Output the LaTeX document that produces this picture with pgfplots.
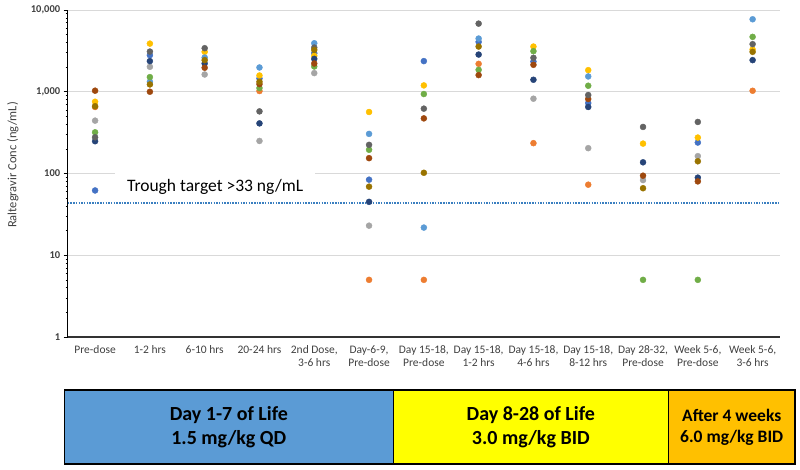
\documentclass[border=0pt]{standalone}
\usepackage{pgfplots}
\pgfplotsset{compat=1.18}
\usepackage{fontspec}
\setmainfont{Carlito}
\definecolor{xblue}{HTML}{4472C4}
\definecolor{xorange}{HTML}{ED7D31}
\definecolor{xgray}{HTML}{A5A5A5}
\definecolor{xgold}{HTML}{FFC000}
\definecolor{xlblue}{HTML}{5B9BD5}
\definecolor{xgreen}{HTML}{70AD47}
\definecolor{xdblue}{HTML}{264478}
\definecolor{xbrown}{HTML}{9E480E}
\definecolor{xdgray}{HTML}{636363}
\definecolor{xdgold}{HTML}{997300}
\definecolor{txt}{HTML}{404040}
\definecolor{troughblue}{HTML}{3A7FC0}
\definecolor{boxblue}{HTML}{5B9BD5}
\definecolor{boxyellow}{HTML}{FFFF00}
\definecolor{boxorange}{HTML}{FFC000}
\begin{document}
\begin{tikzpicture}[x=1bp,y=1bp]
\useasboundingbox (0,0) rectangle (800,470);
\begin{axis}[
  at={(67.7bp,133bp)}, anchor=south west,
  scale only axis, width=712.3bp, height=327bp,
  ymode=log, ymin=1, ymax=10000,
  xmin=-0.5, xmax=12.5,
  axis x line*=bottom, axis y line*=left,
  x axis line style={black!80, line width=1.2bp, -},
  y axis line style={black, line width=0.8bp, -},
  xtick={0,...,12},
  xticklabels={Pre-dose,1-2 hrs,6-10 hrs,20-24 hrs,{2nd Dose,\\3-6 hrs},{Day-6-9,\\Pre-dose},{Day 15-18,\\Pre-dose},{Day 15-18,\\1-2 hrs},{Day 15-18,\\4-6 hrs},{Day 15-18,\\8-12 hrs},{Day 28-32,\\Pre-dose},{Week 5-6,\\Pre-dose},{Week 5-6,\\3-6 hrs}},
  x tick label style={align=center, font=\fontsize{11.5bp}{13.5bp}\selectfont, text=txt, yshift=-1bp},
  major x tick style={draw=none},
  ytick={1,10,100,1000,10000},
  yticklabels={1,10,100,{1,000},{10,000}},
  y tick label style={font=\fontsize{10.5bp}{12bp}\selectfont\bfseries, text=txt},
  /pgf/number format/assume math mode=true,
  tick align=outside,
  major tick length=4bp, minor tick length=2bp,
  ytick pos=left,
  y tick style={black, line width=0.6bp},
  ymajorgrids, grid style={black!15, line width=0.9bp},
  ylabel={Raltegravir Conc (ng/mL)},
  ylabel style={at={(axis description cs:-0.0768,0.526)}, anchor=center, rotate=0, font=\fontsize{12.5bp}{14bp}\selectfont, text=txt},
  clip=false,
  every axis plot/.append style={only marks, mark=*, mark size=3bp},
]
\node[anchor=base, fill=white, inner xsep=12bp, inner ysep=0bp, text height=18bp, text depth=8bp, font=\fontsize{17.5bp}{20bp}\selectfont] at (axis cs:2.19,61) {Trough target >33 ng/mL};
\addplot[xblue, mark options={fill=xblue, draw=xblue}] coordinates {(0,62) (1,2800) (3,1453) (4,2960) (5,84) (6,2370) (7,4070) (8,2343) (9,728) (11,239)};
\addplot[xorange, mark options={fill=xorange, draw=xorange}] coordinates {(0,650) (3,1020) (5,5) (6,5) (7,2193) (8,235) (9,73) (12,1028)};
\addplot[xgray, mark options={fill=xgray, draw=xgray}] coordinates {(0,443) (1,2018) (2,1625) (3,250) (4,1690) (5,23) (8,822) (9,204) (10,83) (11,163)};
\addplot[xgold, mark options={fill=xgold, draw=xgold}] coordinates {(0,755) (1,3880) (2,3075) (3,1580) (4,2750) (5,565) (6,1195) (8,3570) (9,1837) (10,232) (11,275) (12,3280)};
\addplot[xlblue, mark options={fill=xlblue, draw=xlblue}] coordinates {(1,1324) (2,2620) (3,1980) (4,3920) (5,305) (6,21.8) (7,4470) (9,1538) (12,7700)};
\addplot[xgreen, mark options={fill=xgreen, draw=xgreen}] coordinates {(0,319) (1,1510) (3,1110) (4,2035) (5,195) (6,937) (7,1853) (8,3135) (9,1184) (10,5) (11,5) (12,4690)};
\addplot[xdblue, mark options={fill=xdblue, draw=xdblue}] coordinates {(0,248) (1,2370) (2,2215) (3,410) (4,2525) (5,45) (7,2850) (8,1401) (9,651) (10,137) (11,89) (12,2435)};
\addplot[xbrown, mark options={fill=xbrown, draw=xbrown}] coordinates {(0,1030) (1,1000) (2,1965) (3,1240) (4,2214) (5,154) (6,472) (7,1598) (8,2135) (9,815) (10,94) (11,80)};
\addplot[xdgray, mark options={fill=xdgray, draw=xdgray}] coordinates {(0,277) (1,3100) (2,3410) (3,575) (4,3470) (5,224) (6,621) (7,6810) (8,2600) (9,912) (10,371) (11,427) (12,3820)};
\addplot[xdgold, mark options={fill=xdgold, draw=xdgold}] coordinates {(0,665) (1,1228) (2,2435) (3,1324) (4,3250) (5,69) (6,102) (7,3570) (10,66) (11,141) (12,3075)};
\addplot[draw=troughblue, color=troughblue, no marks, sharp plot, line width=2bp, dash pattern=on 1.5bp off 1.2bp] coordinates {(-0.5,43) (12.5,43)};
\end{axis}
% regimen boxes
\filldraw[fill=boxblue, draw=black, line width=1.6bp] (64.3,5.7) rectangle (393.3,80);
\filldraw[fill=boxyellow, draw=black, line width=1.6bp] (393.3,5.7) rectangle (668.3,80);
\filldraw[fill=boxorange, draw=black, line width=1.6bp] (668.3,5.7) rectangle (795,80);
\node[anchor=base, font=\fontsize{20bp}{22bp}\selectfont\bfseries] at (228.8,49) {Day 1-7 of Life};
\node[anchor=base, font=\fontsize{20bp}{22bp}\selectfont\bfseries] at (228.8,25) {1.5 mg/kg QD};
\node[anchor=base, font=\fontsize{20bp}{22bp}\selectfont\bfseries] at (530.8,49) {Day 8-28 of Life};
\node[anchor=base, font=\fontsize{20bp}{22bp}\selectfont\bfseries] at (530.8,25) {3.0 mg/kg BID};
\node[anchor=base, font=\fontsize{17.5bp}{20bp}\selectfont\bfseries] at (731.7,48.3) {After 4 weeks};
\node[anchor=base, font=\fontsize{17.5bp}{20bp}\selectfont\bfseries] at (731.7,27.7) {6.0 mg/kg BID};
\end{tikzpicture}
\end{document}
